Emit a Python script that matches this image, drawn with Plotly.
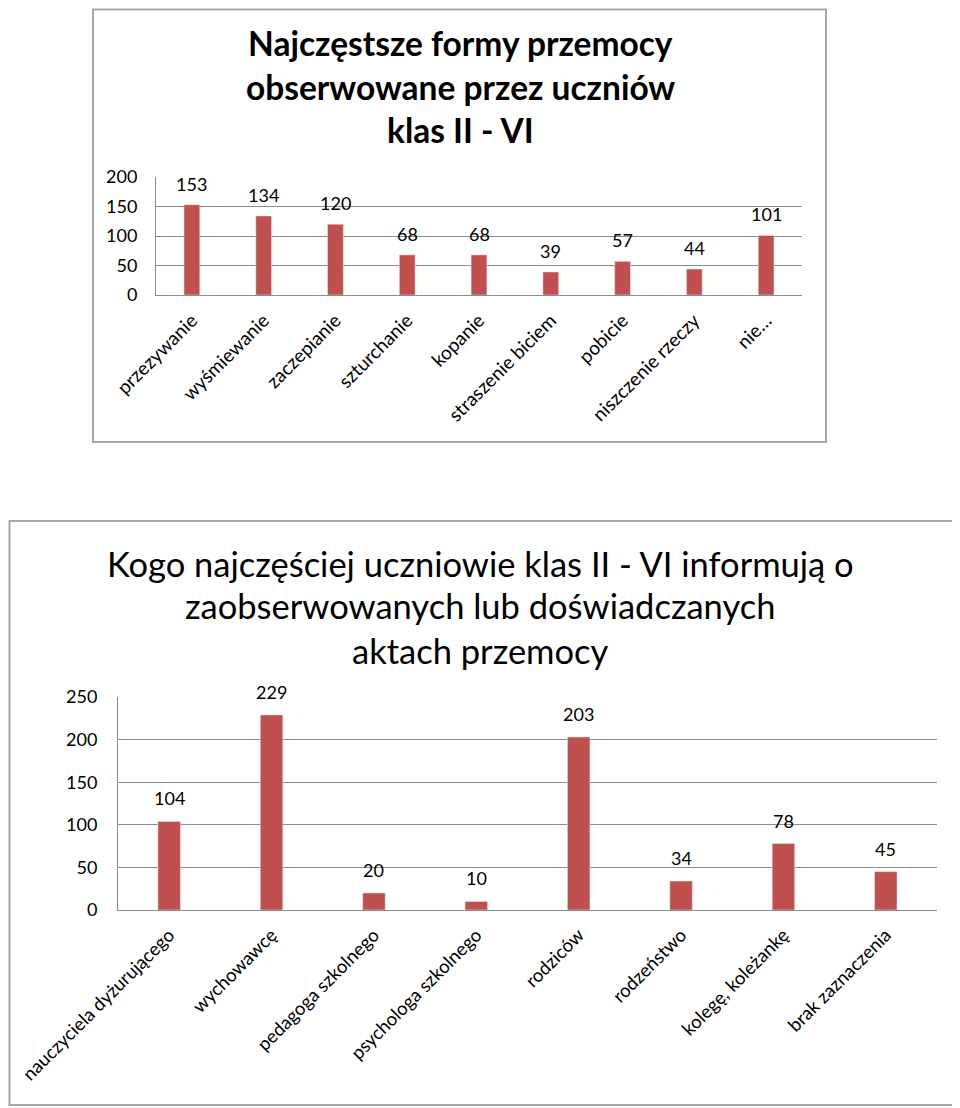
import plotly.graph_objects as go

# ---- data ----
cats1 = ["przezywanie", "wyśmiewanie", "zaczepianie", "szturchanie", "kopanie",
         "straszenie biciem", "pobicie", "niszczenie rzeczy", "nie…"]
vals1 = [153, 134, 120, 68, 68, 39, 57, 44, 101]
title1 = ["Najczęstsze formy przemocy", "obserwowane przez uczniów", "klas II - VI"]
ticks1 = [0, 50, 100, 150, 200]

cats2 = ["nauczyciela dyżurującego", "wychowawcę", "pedagoga szkolnego",
         "psychologa szkolnego", "rodziców", "rodzeństwo", "kolegę, koleżankę",
         "brak zaznaczenia"]
vals2 = [104, 229, 20, 10, 203, 34, 78, 45]
title2 = ["Kogo najczęściej uczniowie klas II - VI informują o",
          "zaobserwowanych lub doświadczanych", "aktach przemocy"]
ticks2 = [0, 50, 100, 150, 200, 250]

OFF = 8  # default page body margin
W, H = 960 - OFF, 1108 - OFF
BAR = "#C0504D"
GRID = "#8C8C8C"
FONT = "Lato"

def px(x):
    return (x - OFF) / W

def py(y):
    return 1 - (y - OFF) / H

fig = go.Figure()
fig.add_trace(go.Bar(x=cats1, y=vals1, marker_color=BAR, xaxis="x", yaxis="y",
                     hoverinfo="skip", showlegend=False))
fig.add_trace(go.Bar(x=cats2, y=vals2, marker_color=BAR, xaxis="x2", yaxis="y2",
                     hoverinfo="skip", showlegend=False))

annotations = []
for c, v in zip(cats1, vals1):
    annotations.append(dict(x=c, y=v, xref="x", yref="y", text=str(v), showarrow=False,
                            yanchor="middle", yshift=21,
                            font=dict(family=FONT, size=18, color="#000")))
for c, v in zip(cats2, vals2):
    annotations.append(dict(x=c, y=v, xref="x2", yref="y2", text=str(v), showarrow=False,
                            yanchor="middle", yshift=23,
                            font=dict(family=FONT, size=18, color="#000")))

for t, yy in zip(title1, [43, 87, 130]):
    annotations.append(dict(x=px(460), y=py(yy), xref="paper", yref="paper", text="<b>" + t + "</b>",
                            showarrow=False, xanchor="center", yanchor="middle",
                            font=dict(family=FONT, size=33.5, color="#000")))
for t, yy in zip(title2, [563, 606, 650]):
    annotations.append(dict(x=px(480), y=py(yy), xref="paper", yref="paper", text=t,
                            showarrow=False, xanchor="center", yanchor="middle",
                            font=dict(family=FONT, size=34.5, color="#000")))

shapes = [
    dict(type="rect", xref="paper", yref="paper", x0=px(93), x1=px(826), y0=py(442), y1=py(9.5),
         line=dict(color="#A6A6A6", width=2), fillcolor="rgba(0,0,0,0)", layer="below"),
    dict(type="rect", xref="paper", yref="paper", x0=px(9.5), x1=px(958), y0=py(1105), y1=py(521),
         line=dict(color="#A6A6A6", width=2), fillcolor="rgba(0,0,0,0)", layer="below"),
]

axis_common = dict(showgrid=True, gridcolor=GRID, gridwidth=1, showline=True, linecolor=GRID,
                   linewidth=1, ticks="", zeroline=False, fixedrange=True, automargin=False,
                   tickfont=dict(family=FONT, size=18, color="#000"))

fig.update_layout(
    width=W, height=H,
    margin=dict(l=0, r=0, t=0, b=0, autoexpand=False),
    paper_bgcolor="white", plot_bgcolor="white",
    bargap=0.78,
    font=dict(family=FONT, color="#000"),
    xaxis=dict(domain=[px(156), px(802)], anchor="y", showgrid=False, showline=True,
               linecolor=GRID, linewidth=1, ticks="", tickangle=-45, fixedrange=True,
               automargin=False, ticklabelstandoff=6,
               tickfont=dict(family=FONT, size=19, color="#000")),
    yaxis=dict(domain=[py(295), py(177)], anchor="x", range=[0, 200], tickvals=ticks1,
               ticklabelstandoff=14, **axis_common),
    xaxis2=dict(domain=[px(118), px(937)], anchor="y2", showgrid=False, showline=True,
                linecolor=GRID, linewidth=1, ticks="", tickangle=-45, fixedrange=True,
                automargin=False, ticklabelstandoff=6,
                tickfont=dict(family=FONT, size=18.5, color="#000")),
    yaxis2=dict(domain=[py(910), py(697)], anchor="x2", range=[0, 250], tickvals=ticks2,
                ticklabelstandoff=16, **axis_common),
    annotations=annotations,
    shapes=shapes,
)

fig.write_html("out.html")
